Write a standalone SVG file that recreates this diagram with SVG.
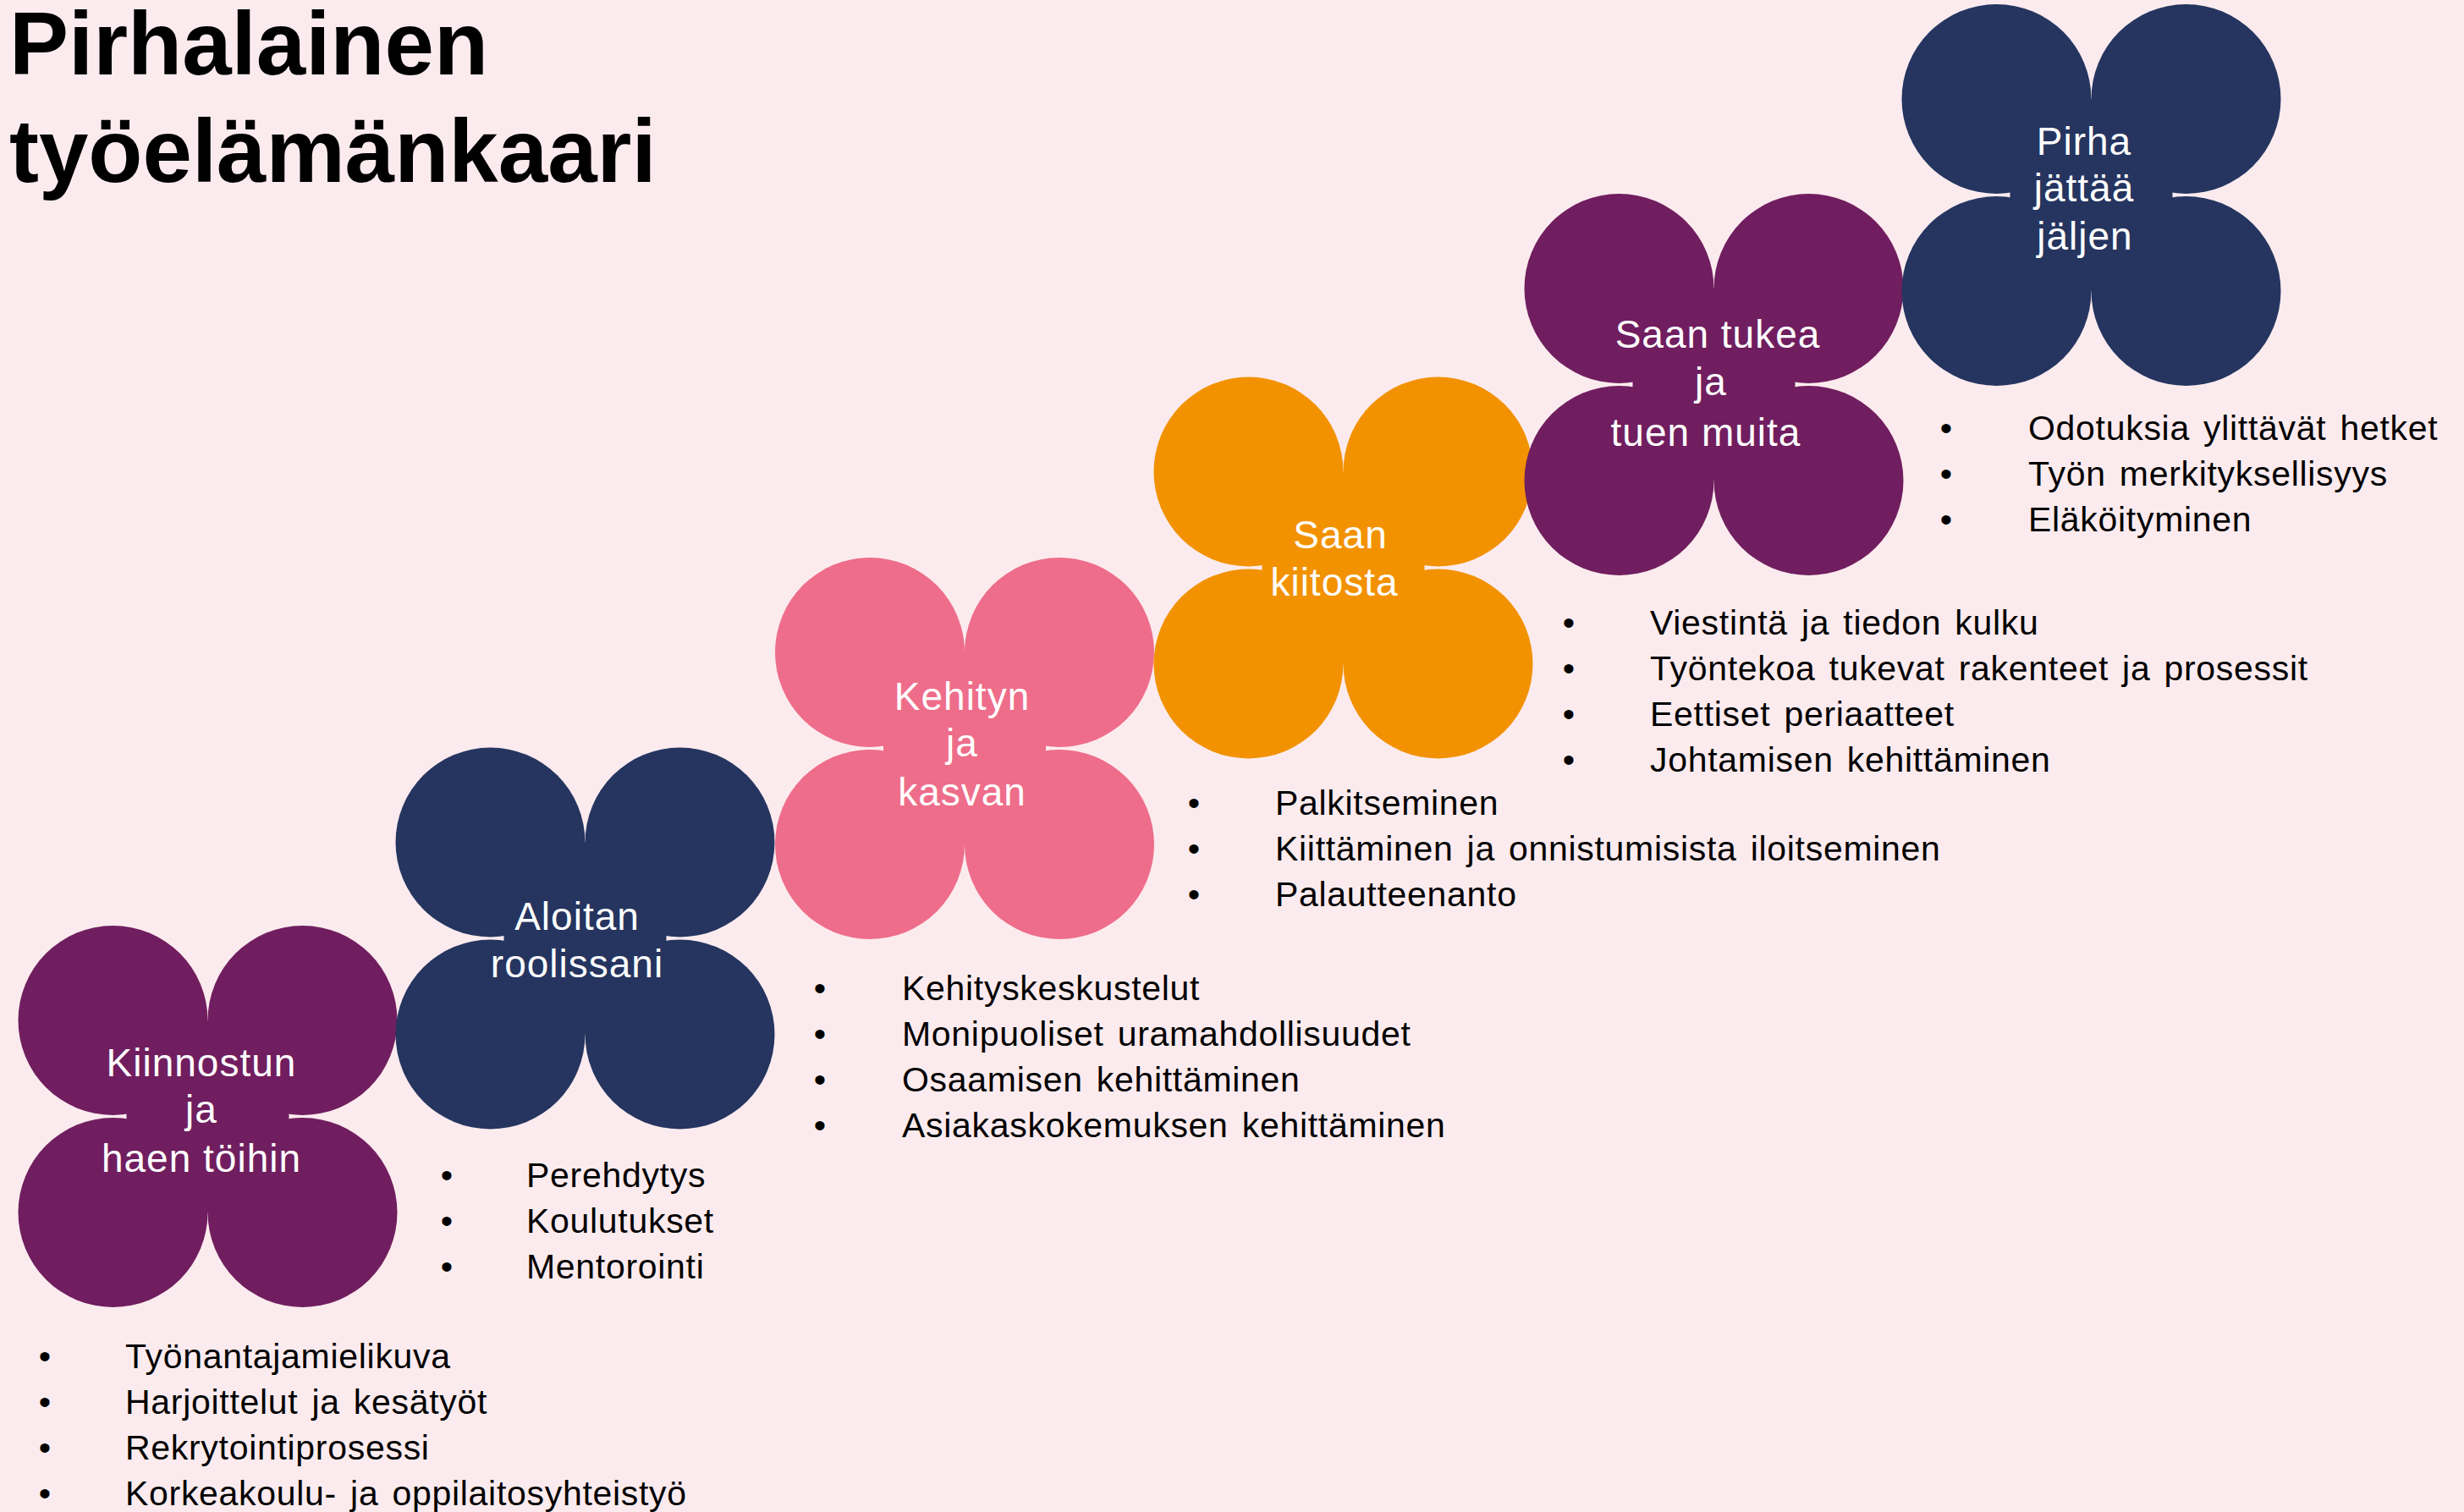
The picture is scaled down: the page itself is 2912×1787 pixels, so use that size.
<svg xmlns="http://www.w3.org/2000/svg" xmlns:xlink="http://www.w3.org/1999/xlink" width="2912" height="1787" viewBox="0 0 2912 1787">
<style>
.title{font-family:"Liberation Sans",Arial,sans-serif;font-weight:bold;font-size:105px;fill:#000}
.lbl{font-family:"Liberation Sans",Arial,sans-serif;font-size:46px;letter-spacing:1px;fill:#fff;text-anchor:middle}
.li{font-family:"Liberation Sans",Arial,sans-serif;font-size:41px;letter-spacing:0.7px;word-spacing:4px;fill:#000}
.bul{font-family:"Liberation Sans",Arial,sans-serif;font-size:41px;fill:#000;text-anchor:middle}
</style>
<defs>
<g id="petals">
<circle cx="-112" cy="-113.5" r="112"/>
<circle cx="112" cy="-113.5" r="112"/>
<circle cx="-112" cy="113.5" r="112"/>
<circle cx="112" cy="113.5" r="112"/>
<rect x="-96" y="-113.5" width="192" height="227"/>
</g>
</defs>
<rect width="2912" height="1787" fill="#FCEBEE"/>
<g id="title">
<text class="title" x="11" y="88">Pirhalainen</text>
<text class="title" x="11" y="215">työelämänkaari</text>
</g>
<g id="connectors"/>
<g id="node1">
<use xlink:href="#petals" x="245.5" y="1319.5" fill="#701E5F"/>
<text class="lbl" x="238" y="1272">Kiinnostun</text>
<text class="lbl" x="238" y="1327">ja</text>
<text class="lbl" x="238" y="1385">haen töihin</text>
</g>
<g id="node2">
<use xlink:href="#petals" x="691.5" y="1109" fill="#253560"/>
<text class="lbl" x="682" y="1099">Aloitan</text>
<text class="lbl" x="682" y="1155">roolissani</text>
</g>
<g id="node3">
<use xlink:href="#petals" x="1140" y="884.5" fill="#EE6D8A"/>
<text class="lbl" x="1137" y="839">Kehityn</text>
<text class="lbl" x="1137" y="894">ja</text>
<text class="lbl" x="1137" y="952">kasvan</text>
</g>
<g id="node4">
<use xlink:href="#petals" x="1587.5" y="671" fill="#F29200"/>
<text class="lbl" x="1584" y="648">Saan</text>
<text class="lbl" x="1577" y="704">kiitosta</text>
</g>
<g id="node5">
<use xlink:href="#petals" x="2025.5" y="454.5" fill="#701E5F"/>
<text class="lbl" x="2030" y="411">Saan tukea</text>
<text class="lbl" x="2022" y="467">ja</text>
<text class="lbl" x="2016" y="527">tuen muita</text>
</g>
<g id="node6">
<use xlink:href="#petals" x="2471.5" y="230.5" fill="#253560"/>
<text class="lbl" x="2463" y="183">Pirha</text>
<text class="lbl" x="2463" y="238">jättää</text>
<text class="lbl" x="2464" y="295">jäljen</text>
</g>
<g id="list1">
<text class="bul" x="53" y="1617">•</text><text class="li" x="148" y="1617">Työnantajamielikuva</text>
<text class="bul" x="53" y="1671">•</text><text class="li" x="148" y="1671">Harjoittelut ja kesätyöt</text>
<text class="bul" x="53" y="1725">•</text><text class="li" x="148" y="1725">Rekrytointiprosessi</text>
<text class="bul" x="53" y="1779">•</text><text class="li" x="148" y="1779">Korkeakoulu- ja oppilaitosyhteistyö</text>
</g>
<g id="list2">
<text class="bul" x="528" y="1403">•</text><text class="li" x="622" y="1403">Perehdytys</text>
<text class="bul" x="528" y="1457">•</text><text class="li" x="622" y="1457">Koulutukset</text>
<text class="bul" x="528" y="1511">•</text><text class="li" x="622" y="1511">Mentorointi</text>
</g>
<g id="list3">
<text class="bul" x="969" y="1182">•</text><text class="li" x="1066" y="1182">Kehityskeskustelut</text>
<text class="bul" x="969" y="1236">•</text><text class="li" x="1066" y="1236">Monipuoliset uramahdollisuudet</text>
<text class="bul" x="969" y="1290">•</text><text class="li" x="1066" y="1290">Osaamisen kehittäminen</text>
<text class="bul" x="969" y="1344">•</text><text class="li" x="1066" y="1344">Asiakaskokemuksen kehittäminen</text>
</g>
<g id="list4">
<text class="bul" x="1411" y="963">•</text><text class="li" x="1507" y="963">Palkitseminen</text>
<text class="bul" x="1411" y="1017">•</text><text class="li" x="1507" y="1017">Kiittäminen ja onnistumisista iloitseminen</text>
<text class="bul" x="1411" y="1071">•</text><text class="li" x="1507" y="1071">Palautteenanto</text>
</g>
<g id="list5">
<text class="bul" x="1854" y="750">•</text><text class="li" x="1950" y="750">Viestintä ja tiedon kulku</text>
<text class="bul" x="1854" y="804">•</text><text class="li" x="1950" y="804">Työntekoa tukevat rakenteet ja prosessit</text>
<text class="bul" x="1854" y="858">•</text><text class="li" x="1950" y="858">Eettiset periaatteet</text>
<text class="bul" x="1854" y="912">•</text><text class="li" x="1950" y="912">Johtamisen kehittäminen</text>
</g>
<g id="list6">
<text class="bul" x="2300" y="520">•</text><text class="li" x="2397" y="520">Odotuksia ylittävät hetket</text>
<text class="bul" x="2300" y="574">•</text><text class="li" x="2397" y="574">Työn merkityksellisyys</text>
<text class="bul" x="2300" y="628">•</text><text class="li" x="2397" y="628">Eläköityminen</text>
</g>
</svg>
